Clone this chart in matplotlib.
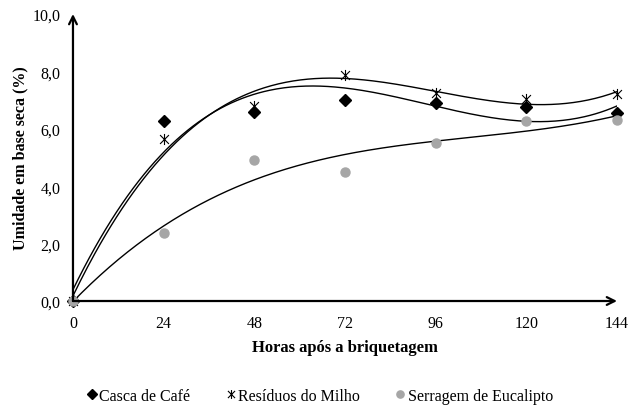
import numpy as np
import matplotlib
matplotlib.use("Agg")
import matplotlib.pyplot as plt
from matplotlib.path import Path
from matplotlib.ticker import FuncFormatter

# horas apos a briquetagem
horas = [0, 24, 48, 72, 96, 120, 144]
# umidade em base seca (%)
casca_cafe = [0.0, 6.27, 6.57, 7.01, 6.90, 6.75, 6.55]
residuos_milho = [0.0, 5.64, 6.78, 7.87, 7.24, 7.04, 7.21]
serragem_eucalipto = [0.0, 2.36, 4.92, 4.49, 5.50, 6.28, 6.32]

x_ticks = [0, 24, 48, 72, 96, 120, 144]
y_ticks = [0, 2, 4, 6, 8, 10]

plt.rcParams['font.family'] = ['Liberation Serif', 'DejaVu Serif']

# asterisco: X com traco vertical
star = Path(
    [(-1, -1), (1, 1), (-1, 1), (1, -1), (0, -1.25), (0, 1.25)],
    [Path.MOVETO, Path.LINETO, Path.MOVETO, Path.LINETO, Path.MOVETO, Path.LINETO],
)

styles = {
    'casca': {'marker': 'D', 'color': 'black', 'markersize': 6, 'linestyle': 'none'},
    'milho': {'marker': star, 'color': 'black', 'markerfacecolor': 'none',
              'markeredgewidth': 0.8, 'markersize': 8, 'linestyle': 'none'},
    'serragem': {'marker': 'o', 'color': '#a6a6a6', 'markersize': 6.5, 'linestyle': 'none'},
    'trend': {'color': 'black', 'linewidth': 1.0},
}

fig = plt.figure(figsize=(6.39, 4.10), dpi=100)
ax = fig.add_axes([0.1142, 0.2634, 0.8514, 0.7000])

xs = np.linspace(0, 144, 300)
series = [
    (casca_cafe, 'casca', 'Casca de Café'),
    (residuos_milho, 'milho', 'Resíduos do Milho'),
    (serragem_eucalipto, 'serragem', 'Serragem de Eucalipto'),
]
# linhas de tendencia polinomiais (ordem 3)
for vals, key, nome in series:
    coef = np.polyfit(horas, vals, 3)
    ax.plot(xs, np.polyval(coef, xs), **styles['trend'], zorder=2)
for vals, key, nome in series:
    ax.plot(horas, vals, label=nome, clip_on=False, zorder=3, **styles[key])

ax.set_xlim(0, 144)
ax.set_ylim(0, 10)
ax.set_xticks(x_ticks)
ax.set_yticks(y_ticks)
ax.yaxis.set_major_formatter(FuncFormatter(lambda v, p: ("%.1f" % v).replace('.', ',')))
ax.tick_params(length=0, labelsize=11.5)
ax.tick_params(axis='x', pad=10)
ax.tick_params(axis='y', pad=9)

for s in ax.spines.values():
    s.set_visible(False)
arrow = dict(arrowstyle='->', lw=1.6, color='black', mutation_scale=14, shrinkA=0, shrinkB=0)
ax.annotate('', xy=(1, 0), xytext=(0, 0), xycoords='axes fraction', arrowprops=arrow)
ax.annotate('', xy=(0, 1), xytext=(0, 0), xycoords='axes fraction', arrowprops=arrow)

ax.set_xlabel('Horas após a briquetagem', fontsize=12, fontweight='bold')
ax.set_ylabel('Umidade em base seca (%)', fontsize=11.5, fontweight='bold')
ax.xaxis.set_label_coords(0.5, -0.16)
ax.xaxis.label.set_va('center')
ax.yaxis.set_label_coords(-0.096, 0.50)
ax.yaxis.label.set_va('center')

fig.legend(loc='center', bbox_to_anchor=(0.5, 0.032), ncol=3, frameon=False,
           fontsize=11.5, markerscale=0.8, handlelength=0.7, handletextpad=0.1,
           columnspacing=2.2)

fig.savefig('out.png', dpi=100)
